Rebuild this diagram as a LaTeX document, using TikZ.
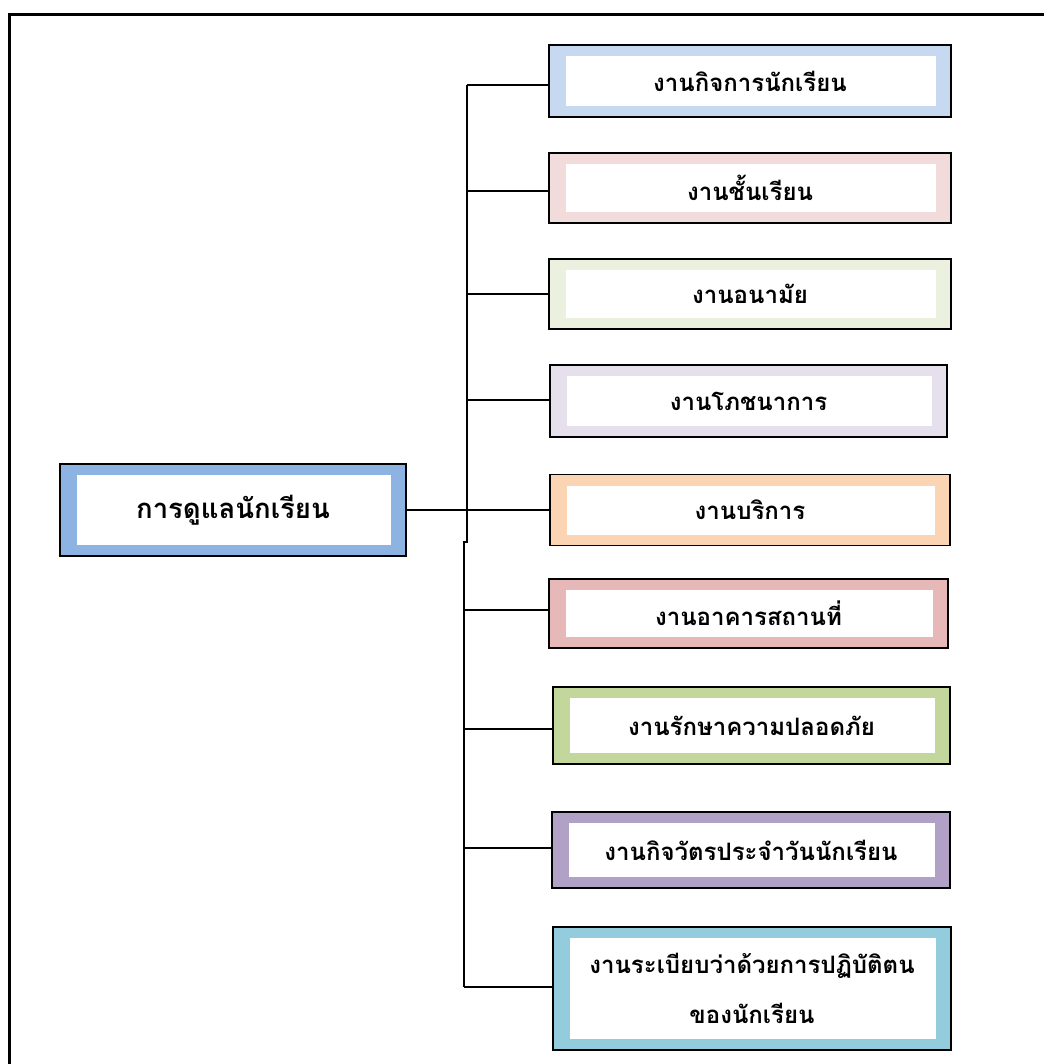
\documentclass[tikz,border=0pt]{standalone}
\usepackage{fontspec}
\newfontfamily\thaifont[Script=Thai]{Loma}
\definecolor{cA}{HTML}{C6D9F1}
\definecolor{cB}{HTML}{F2DCDB}
\definecolor{cC}{HTML}{EBF1DE}
\definecolor{cD}{HTML}{E5E0EC}
\definecolor{cE}{HTML}{FBD4B4}
\definecolor{cF}{HTML}{E6B9B8}
\definecolor{cG}{HTML}{C3D69B}
\definecolor{cH}{HTML}{B2A1C7}
\definecolor{cI}{HTML}{93CDDD}
\definecolor{cM}{HTML}{8DB3E2}
\tikzset{
  panel/.style={draw=black, line width=1.8pt, fill=#1, inner sep=0pt,
    path picture={\fill[white] ([shift={(17,11)}]path picture bounding box.north west)
      rectangle ([shift={(-15,-11)}]path picture bounding box.south east);}},
  label/.style={font=\thaifont\bfseries\fontsize{24}{50}\selectfont, align=center, text=black},
  conn/.style={line width=1.5pt, draw=black},
}
\begin{document}
\begin{tikzpicture}[x=1pt,y=-1pt]
\useasboundingbox (0,0) rectangle (1043,1064);
% outer frame
\draw[line width=3pt, line cap=rect] (9,1066) -- (9,15) -- (1045,15);
% boxes
\node[panel=cM, minimum width=346pt, minimum height=92pt] (main) at (233,510) {};
\node[panel=cA, minimum width=402pt, minimum height=72pt] (b1) at (750,81) {};
\node[panel=cB, minimum width=402pt, minimum height=70pt] (b2) at (750,188) {};
\node[panel=cC, minimum width=402pt, minimum height=70pt] (b3) at (750,294) {};
\node[panel=cD, minimum width=397pt, minimum height=72pt] (b4) at (748.5,401) {};
\node[panel=cE, minimum width=400pt, minimum height=71pt] (b5) at (750,510) {};
\node[panel=cF, minimum width=399pt, minimum height=69pt] (b6) at (748.5,613.5) {};
\node[panel=cG, minimum width=397pt, minimum height=77pt] (b7) at (751.5,725.5) {};
\node[panel=cH, minimum width=398pt, minimum height=76pt] (b8) at (751,850) {};
\node[panel=cI, minimum width=398pt, minimum height=123pt] (b9) at (752,988.5) {};
% texts
\node[label, font=\thaifont\bfseries\fontsize{27.5}{30}\selectfont] (tm) at (main) {การดูแลนักเรียน};
\node[label] (t1) at (b1) {งานกิจการนักเรียน};
\node[label] (t2) at (b2) {งานชั้นเรียน};
\node[label] (t3) at (b3) {งานอนามัย};
\node[label] (t4) at (b4) {งานโภชนาการ};
\node[label] (t5) at (b5) {งานบริการ};
\node[label] (t6) at (b6) {งานอาคารสถานที่};
\node[label] (t7) at (b7) {งานรักษาความปลอดภัย};
\node[label] (t8) at (b8) {งานกิจวัตรประจำวันนักเรียน};
\node[label] (t9) at (b9) {งานระเบียบว่าด้วยการปฏิบัติตน\\ของนักเรียน};
% trunk coordinates
\coordinate (j1) at (467,85);
\coordinate (j2) at (467,191);
\coordinate (j3) at (467,294);
\coordinate (j4) at (467,400);
\coordinate (jm) at (467,542);
\coordinate (jn) at (464,542);
\coordinate (j6) at (464,610);
\coordinate (j7) at (464,729);
\coordinate (j8) at (464,848);
\coordinate (j9) at (464,987);
\draw[conn] (j1) -- (jm) -- (jn) -- (j9);
\draw[conn] (j1) -- (j1 -| b1.west);
\draw[conn] (j2) -- (j2 -| b2.west);
\draw[conn] (j3) -- (j3 -| b3.west);
\draw[conn] (j4) -- (j4 -| b4.west);
\draw[conn] (j6) -- (j6 -| b6.west);
\draw[conn] (j7) -- (j7 -| b7.west);
\draw[conn] (j8) -- (j8 -| b8.west);
\draw[conn] (j9) -- (j9 -| b9.west);
\draw[conn] (main.east) -- (main.east -| b5.west);
\end{tikzpicture}
\end{document}
